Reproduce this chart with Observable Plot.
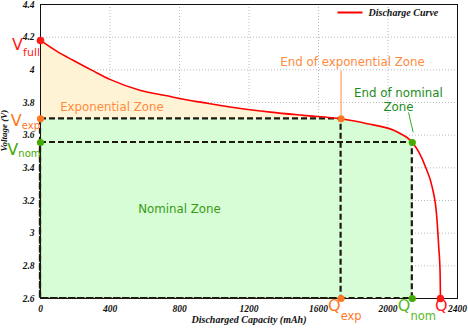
<!DOCTYPE html>
<html><head><meta charset="utf-8">
<script src="https://cdn.jsdelivr.net/npm/d3@7"></script>
<script src="https://cdn.jsdelivr.net/npm/@observablehq/plot@0.6"></script>
<style>
body{margin:0;background:#fff;}
#chart{width:468px;height:328px;}
</style>
</head><body><div id="chart"></div>
<script>
// discharge curve
const capacity = [0, 95, 190, 300, 403, 576, 748, 806, 938, 1132, 1324, 1514, 1730, 1880, 2033, 2072, 2129, 2140, 2177, 2216, 2254, 2279, 2292, 2300, 2302];
const voltage  = [4.18, 4.113, 4.057, 3.995, 3.94, 3.874, 3.837, 3.823, 3.799, 3.766, 3.741, 3.721, 3.70, 3.67, 3.63, 3.609, 3.568, 3.555, 3.497, 3.405, 3.283, 3.12, 2.916, 2.753, 2.6];
// characteristic points
const vFull = 4.18, vExp = 3.70, vNom = 3.555, vCut = 2.6;
const qExp = 1730, qNom = 2140, qEnd = 2302;
const xTicks = [0, 400, 800, 1200, 1600, 2000, 2400];
const yTicks = [2.6, 2.8, 3.0, 3.2, 3.4, 3.6, 3.8, 4.0, 4.2, 4.4];
// annotation anchors (data units)
const expNoteX = 1796, expNoteY = 4.045, expLineTop = 3.996, expLineBottom = 3.72;
const nomNoteX = 2060, nomNoteY1 = 3.855, nomNoteY2 = 3.773;
const nomLine = [[2118, 3.739], [2145, 3.617]];
const expZoneLabel = [411, 3.772];
const nomZoneLabel = [800, 3.146];
const legendLineX = [1709, 1853], legendY = 4.351, legendTextX = 1888;
const labelNames = {curve: "Discharge Curve", x: "Discharged Capacity (mAh)", y: "Voltage (V)"};

const curve = capacity.map((c, i) => ({c, v: voltage[i]}));
const expArea = curve.filter(d => d.c <= qExp);
const nomArea = [{c: 0, v: vExp}].concat(curve.filter(d => d.c >= qExp && d.c <= qNom));

const RED = "#ff1a1a", ORANGE = "#ff7722", GREEN = "#44aa00";
const SANS = "DejaVu Sans", SERIF = "Liberation Serif";
const serifStyle = {fontFamily: SERIF, fontStyle: "italic", fontWeight: "bold"};

function lab(x, y, text, color, size, anchor, dx, dy) {
  return Plot.text([{x, y}], {x: "x", y: "y", text: () => text, fill: color, fontSize: size,
    fontFamily: SANS, textAnchor: anchor, dx, dy});
}
// subscript styling: key -> [sub font size, baseline shift]
const subStyle = {"V_full": [11, 6], "V_exp": [10, 3], "V_nom": [10, 1.5], "Q_exp": [11.5, 9], "Q_nom": [11.5, 9]};

const chart = Plot.plot({
  width: 468, height: 328,
  marginLeft: 40, marginRight: 11, marginTop: 4, marginBottom: 30,
  x: {domain: [0, 2400]},
  y: {domain: [2.6, 4.4]},
  style: {background: "#fff"},
  marks: [
    Plot.gridX(xTicks, {stroke: "#bbb", strokeOpacity: 1, strokeDasharray: "1,2"}),
    Plot.gridY(yTicks, {stroke: "#bbb", strokeOpacity: 1, strokeDasharray: "1,2"}),
    Plot.areaY(expArea, {x: "c", y1: vExp, y2: "v", fill: "#fff3d6", curve: "monotone-x"}),
    Plot.areaY(nomArea, {x: "c", y1: vCut, y2: "v", fill: "#d6fdd6"}),
    Plot.frame({stroke: "#111", strokeWidth: 1}),
    Plot.rect([{x1: 0, x2: qExp, y1: vCut, y2: vExp}, {x1: 0, x2: qNom, y1: vCut, y2: vNom}],
      {x1: "x1", x2: "x2", y1: "y1", y2: "y2", fill: "none", stroke: "#1e1a10", strokeWidth: 2.2, strokeDasharray: "6,3"}),
    Plot.link([{x1: qExp, y1: expLineTop, x2: qExp, y2: expLineBottom}], {x1: "x1", y1: "y1", x2: "x2", y2: "y2", stroke: "#ff8c40", strokeWidth: 1}),
    Plot.link([{x1: nomLine[0][0], y1: nomLine[0][1], x2: nomLine[1][0], y2: nomLine[1][1]}], {x1: "x1", y1: "y1", x2: "x2", y2: "y2", stroke: "#33aa22", strokeWidth: 1}),
    Plot.line(curve, {x: "c", y: "v", stroke: "#ff0000", strokeWidth: 1.6, curve: "monotone-x"}),
    Plot.dot([{x: 0, y: vFull}, {x: qEnd, y: vCut}], {x: "x", y: "y", r: 3.8, fill: RED}),
    Plot.dot([{x: 0, y: vExp}, {x: qExp, y: vCut}, {x: qExp, y: vExp}], {x: "x", y: "y", r: 3.6, fill: ORANGE}),
    Plot.dot([{x: 0, y: vNom}, {x: qNom, y: vCut}, {x: qNom, y: vNom}], {x: "x", y: "y", r: 3.6, fill: GREEN}),
    // V labels (V + subscript, one text each)
    lab(0, vFull, "V_full", RED, 16, "end", -0.5, 4),
    lab(0, vExp, "V_exp", ORANGE, 16, "end", -0.5, 2.5),
    lab(0, vNom, "V_nom", GREEN, 16, "end", 0, 7.5),
    // Q labels
    lab(qExp, vCut, "Q_exp", ORANGE, 16, "start", -13, 7),
    lab(qNom, vCut, "Q_nom", "#55bb22", 16, "start", -14.5, 7),
    lab(qEnd, vCut, "Q", RED, 16, "start", -5.5, 7),
    // zone texts
    lab(expNoteX, expNoteY, "End of exponential Zone", "#ff8a3d", 11.8, "middle", 0, 0),
    lab(nomNoteX, nomNoteY1, "End of nominal", "#1a8c1a", 11.8, "middle", 0, 0),
    lab(nomNoteX, nomNoteY2, "Zone", "#1a8c1a", 11.8, "middle", 0, 0),
    lab(expZoneLabel[0], expZoneLabel[1], "Exponential Zone", "#ff8a3d", 11.8, "middle", 0, 0),
    lab(nomZoneLabel[0], nomZoneLabel[1], "Nominal Zone", "#3a9a12", 11.8, "middle", 0, 0),
    // legend
    Plot.link([{x1: legendLineX[0], x2: legendLineX[1], y: legendY}], {x1: "x1", x2: "x2", y1: "y", y2: "y", stroke: "#ff0000", strokeWidth: 2}),
    Plot.text([{x: legendTextX, y: legendY}], {x: "x", y: "y", text: () => labelNames.curve, textAnchor: "start", fontSize: 10, fill: "#111", ...serifStyle}),
    // axes
    Plot.axisX({ticks: xTicks, tickSize: 0, tickPadding: 7, label: null, tickFormat: d => String(d), fontSize: 9.5, fill: "#111", ...serifStyle}),
    Plot.axisY({ticks: yTicks, tickSize: 0, tickPadding: 6, label: null, tickFormat: d => String(+d.toFixed(1)), fontSize: 9.5, fill: "#111", ...serifStyle}),
    Plot.text([labelNames.x], {frameAnchor: "bottom", dy: 24, text: d => d, fontSize: 10, fill: "#111", ...serifStyle}),
    Plot.text([labelNames.y], {frameAnchor: "left", dx: -36, rotate: -90, text: d => d, fontSize: 9, fill: "#111", ...serifStyle})
  ]
});
// turn "X_sub" labels into a main letter with a subscript tspan
const SVGNS = "http://www.w3.org/2000/svg";
for (const t of chart.querySelectorAll("text")) {
  const s = t.textContent;
  if (subStyle[s]) {
    const [main, sub] = s.split("_");
    const [size, shift] = subStyle[s];
    t.textContent = main;
    const ts = document.createElementNS(SVGNS, "tspan");
    ts.setAttribute("font-size", size);
    ts.setAttribute("dy", shift);
    ts.textContent = sub;
    t.appendChild(ts);
  }
}
document.getElementById("chart").appendChild(chart);
</script>
</body></html>
